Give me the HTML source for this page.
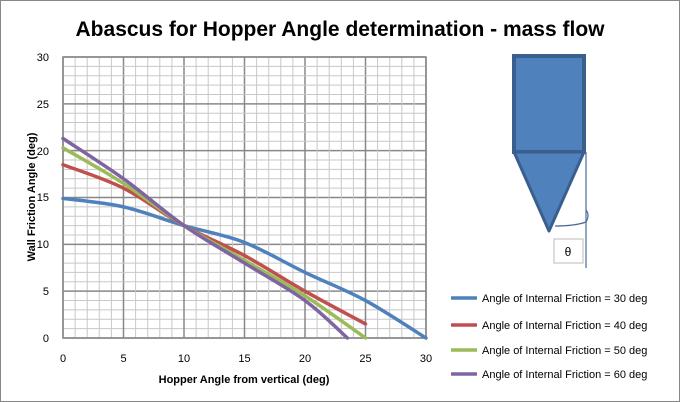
<!DOCTYPE html>
<html><head><style>body{margin:0;background:#fff}svg{display:block}</style></head><body>
<svg width="680" height="402" xmlns="http://www.w3.org/2000/svg" font-family="Liberation Sans, sans-serif">
<rect x="0.5" y="0.5" width="679" height="401" fill="#fff" stroke="#888"/>
<text x="340" y="36" text-anchor="middle" font-size="21" font-weight="bold">Abascus for Hopper Angle determination - mass flow</text>
<g id="grid"></g>
<rect x="63" y="57" width="363" height="281" fill="none" stroke="#888" stroke-width="1.5"/>
<g font-size="11">
<text x="63" y="362" text-anchor="middle">0</text><text x="123.5" y="362" text-anchor="middle">5</text><text x="184" y="362" text-anchor="middle">10</text><text x="244.5" y="362" text-anchor="middle">15</text><text x="305" y="362" text-anchor="middle">20</text><text x="365.5" y="362" text-anchor="middle">25</text><text x="426" y="362" text-anchor="middle">30</text>
<text x="49" y="342" text-anchor="end">0</text><text x="49" y="295" text-anchor="end">5</text><text x="49" y="248" text-anchor="end">10</text><text x="49" y="201" text-anchor="end">15</text><text x="49" y="155" text-anchor="end">20</text><text x="49" y="108" text-anchor="end">25</text><text x="49" y="61" text-anchor="end">30</text>
</g>
<text x="244" y="383" text-anchor="middle" font-size="11" font-weight="bold">Hopper Angle from vertical (deg)</text>
<text transform="translate(35,197) rotate(-90)" text-anchor="middle" font-size="11" font-weight="bold">Wall Friction Angle (deg)</text>
<g fill="none" stroke-width="3.5" stroke-linecap="round" id="curves"></g>
<rect x="514" y="56" width="70" height="96" fill="#4f81bd" stroke="#3a5f8f" stroke-width="4"/>
<polygon points="514,152 584,152 549,231" fill="#4f81bd" stroke="#3a5f8f" stroke-width="3" stroke-linejoin="round"/>
<line x1="586" y1="152" x2="586" y2="268" stroke="#4a6a9a" stroke-width="1.2"/>
<path d="M555 226 Q575 226 586 222 Q590 215 586 210" fill="none" stroke="#4a6a9a" stroke-width="1.2"/>
<rect x="554" y="239" width="29" height="24" fill="#fff" stroke="#bbb"/>
<text x="568" y="256" text-anchor="middle" font-size="12">θ</text>
<g font-size="11">
<line x1="451" y1="298" x2="477" y2="298" stroke="#4f81bd" stroke-width="3.5"/><text x="482" y="302">Angle of Internal Friction = 30 deg</text>
<line x1="451" y1="325" x2="477" y2="325" stroke="#c0504d" stroke-width="3.5"/><text x="482" y="329">Angle of Internal Friction = 40 deg</text>
<line x1="451" y1="350" x2="477" y2="350" stroke="#9bbb59" stroke-width="3.5"/><text x="482" y="354">Angle of Internal Friction = 50 deg</text>
<line x1="451" y1="374" x2="477" y2="374" stroke="#8064a2" stroke-width="3.5"/><text x="482" y="378">Angle of Internal Friction = 60 deg</text>
</g>
</svg>
<script>
var ns="http://www.w3.org/2000/svg",g=document.getElementById('grid');
function X(v){return 63+v*12.1}function Y(v){return 338-v*9.367}
for(var i=0;i<=30;i++){var maj=i%5==0;
var l=document.createElementNS(ns,'line');l.setAttribute('x1',X(i));l.setAttribute('x2',X(i));l.setAttribute('y1',57);l.setAttribute('y2',338);l.setAttribute('stroke',maj?'#888':'#c8c8c8');l.setAttribute('stroke-width',maj?1.5:1);g.appendChild(l);
l=document.createElementNS(ns,'line');l.setAttribute('y1',Y(i));l.setAttribute('y2',Y(i));l.setAttribute('x1',63);l.setAttribute('x2',426);l.setAttribute('stroke',maj?'#888':'#c8c8c8');l.setAttribute('stroke-width',maj?1.5:1);g.appendChild(l);}
var data=[['#4f81bd',[[0,14.9],[5,14],[10,12],[15,10.2],[20,7],[25,4],[30,0]]],
['#c0504d',[[0,18.5],[5,16],[10,12],[15,8.8],[20,5],[25,1.5]]],
['#9bbb59',[[0,20.3],[5,16.5],[10,12],[15,8.3],[20,4.5],[25,0]]],
['#8064a2',[[0,21.3],[5,17],[10,12],[15,8],[20,4],[23.5,0]]]];
var cg=document.getElementById('curves');
data.forEach(function(d){var P=d[1].map(function(q){return [X(q[0]),Y(q[1])]});
var s='M'+P[0][0]+' '+P[0][1];
for(var i=0;i<P.length-1;i++){var p0=P[i-1]||P[i],p1=P[i],p2=P[i+1],p3=P[i+2]||P[i+1];
var a=[p1[0]+(p2[0]-p0[0])/6,p1[1]+(p2[1]-p0[1])/6],b=[p2[0]-(p3[0]-p1[0])/6,p2[1]-(p3[1]-p1[1])/6];
s+=' C'+a[0]+' '+a[1]+' '+b[0]+' '+b[1]+' '+p2[0]+' '+p2[1];}
var p=document.createElementNS(ns,'path');p.setAttribute('d',s);p.setAttribute('stroke',d[0]);cg.appendChild(p);});
</script>
</body></html>
